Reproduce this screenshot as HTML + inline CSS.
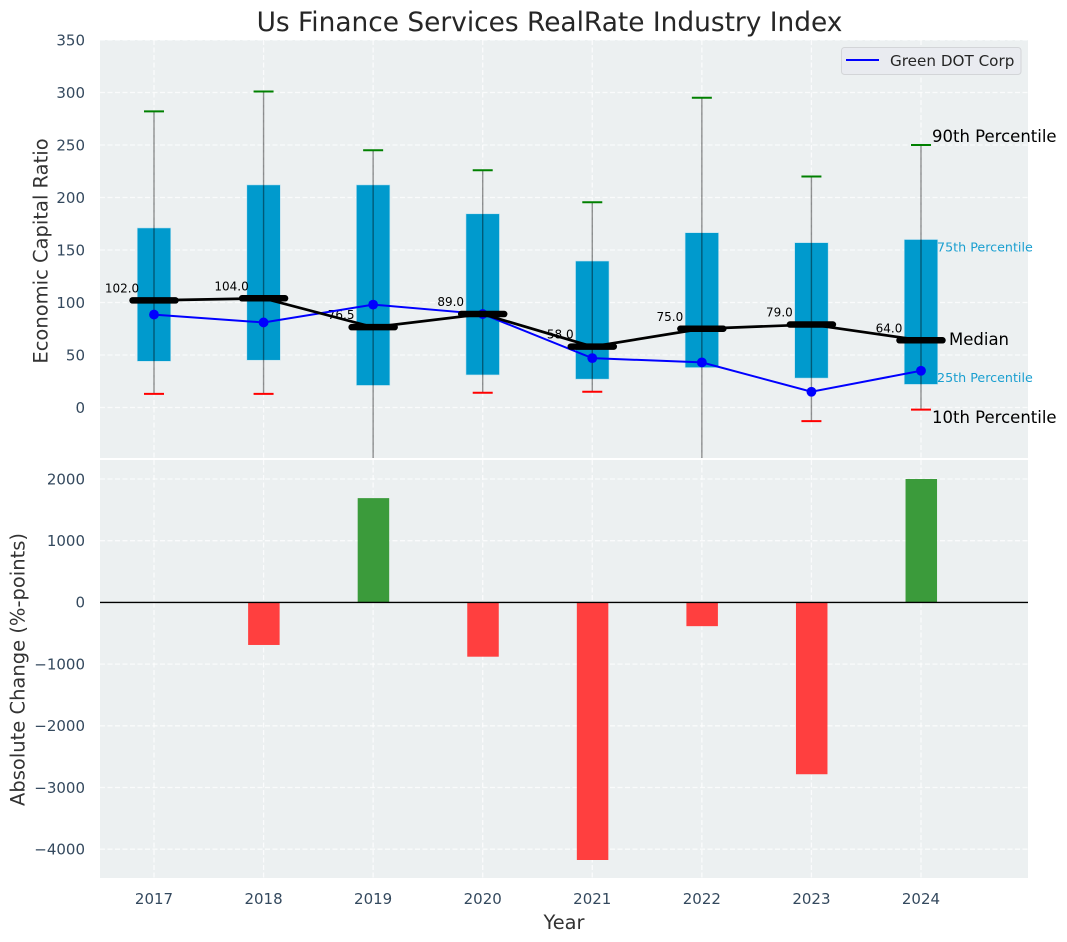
<!DOCTYPE html>
<html>
<head>
<meta charset="utf-8">
<title>Us Finance Services RealRate Industry Index</title>
<style>
html,body{margin:0;padding:0;background:#fff;width:1067px;height:942px;overflow:hidden}
svg{display:block}
text{font-family:"DejaVu Sans","Liberation Sans",sans-serif}
</style>
</head>
<body>
<svg id="chart" xmlns="http://www.w3.org/2000/svg" width="1067" height="942" viewBox="0 0 1067 942">
  <defs>
    <clipPath id="top-clip"><rect x="100" y="40" width="928" height="418"/></clipPath>
    <clipPath id="bottom-clip"><rect x="100" y="460" width="928" height="418"/></clipPath>
  </defs>
  <text x="549.5" y="31" text-anchor="middle" font-size="26.4" fill="#262626">Us Finance Services RealRate Industry Index</text>
  <rect x="100" y="40" width="928" height="418" fill="#ecf0f1"/>
  <rect x="100" y="460" width="928" height="418" fill="#ecf0f1"/>
  <g id="grid"></g>
  <g id="top-marks" clip-path="url(#top-clip)"></g>
  <g id="bottom-marks" clip-path="url(#bottom-clip)"></g>
  <g id="labels"></g>
  <text transform="translate(47.5,251) rotate(-90)" text-anchor="middle" font-size="19.5" fill="#333333">Economic Capital Ratio</text>
  <text transform="translate(24.5,669.5) rotate(-90)" text-anchor="middle" font-size="19.5" fill="#333333">Absolute Change (%-points)</text>
  <text x="564" y="929" text-anchor="middle" font-size="19.4" fill="#333333">Year</text>
  <g>
    <rect x="841.5" y="47.5" width="179.5" height="27" rx="3" fill="#e9ebf0" stroke="#d3d5d8" stroke-width="1"/>
    <line x1="846" x2="879" y1="60" y2="60" stroke="#0000ff" stroke-width="2"/>
    <text x="890" y="66" font-size="15.2" fill="#262626">Green DOT Corp</text>
  </g>
  <text x="932" y="142" font-size="16.5" fill="#000">90th Percentile</text>
  <text x="937" y="251.500" font-size="12.7" fill="#1a9fd0">75th Percentile</text>
  <text x="949" y="345" font-size="16.5" fill="#000">Median</text>
  <text x="937" y="382" font-size="12.7" fill="#1a9fd0">25th Percentile</text>
  <text x="932" y="423" font-size="16.5" fill="#000">10th Percentile</text>
</svg>
<script>
const years = [2017, 2018, 2019, 2020, 2021, 2022, 2023, 2024];
const p90 = [282, 301, 245, 226, 195.500, 295, 220, 250];
const p75 = [171, 212, 212, 184.500, 139.500, 166.500, 157, 160];
const median = [102, 104, 76.5, 89, 58, 75, 79, 64];
const p25 = [44, 45, 21, 31, 27, 38, 28, 22];
const p10 = [13, 13, -60, 14, 15, -60, -13, -2];
const company = [88.5, 81, 98, 89, 47, 43, 15, 35];
const change = [null, -690, 1690, -880, -4175, -385, -2785, 2000];
const topTicks = [0, 50, 100, 150, 200, 250, 300, 350];
const bottomTicks = [-4000, -3000, -2000, -1000, 0, 1000, 2000];

const NS = 'http://www.w3.org/2000/svg';
const xScale = y => 154 + (y - 2017) * 109.57;
const yTop = v => 407.5 - v * 1.05;
const yBottom = v => 602.4 - v * 0.0617;
const gridG = document.getElementById('grid');
const topG = document.getElementById('top-marks');
const bottomG = document.getElementById('bottom-marks');
const labelG = document.getElementById('labels');

function make(parent, tag, attrs, txt) {
  const el = document.createElementNS(NS, tag);
  for (const k in attrs) el.setAttribute(k, attrs[k]);
  if (txt !== undefined) el.textContent = txt;
  parent.appendChild(el);
  return el;
}
const gridStyle = { stroke: '#ffffff', 'stroke-width': 1.3, 'stroke-dasharray': '5 2.5', 'stroke-opacity': 0.75 };
const fmt = v => String(v).replace('-', '\u2212');

topTicks.forEach(t => {
  const g = make(gridG, 'line', Object.assign({ x1: 100, x2: 1028, y1: yTop(t), y2: yTop(t) }, gridStyle));
  
  
  const l = make(labelG, 'text', { x: 85, y: yTop(t) + 5.3, 'text-anchor': 'end', 'font-size': 15, fill: '#34495e' }, fmt(t));
  
  
});
bottomTicks.forEach(t => {
  const g = make(gridG, 'line', Object.assign({ x1: 100, x2: 1028, y1: yBottom(t), y2: yBottom(t) }, gridStyle));
  
  
  const l = make(labelG, 'text', { x: 85, y: yBottom(t) + 5.3, 'text-anchor': 'end', 'font-size': 15, fill: '#34495e' }, fmt(t));
  
  
});
years.forEach(y => {
  const a = make(gridG, 'line', Object.assign({ x1: xScale(y), x2: xScale(y), y1: 40, y2: 458 }, gridStyle));
  
  
  const b = make(gridG, 'line', Object.assign({ x1: xScale(y), x2: xScale(y), y1: 460, y2: 878 }, gridStyle));
  
  
  const l = make(labelG, 'text', { x: xScale(y), y: 904, 'text-anchor': 'middle', 'font-size': 15, fill: '#34495e' }, String(y));
  
  
});

const boxW = 33.5;
years.forEach((y, i) => {
  const x = xScale(y);
  const box = make(topG, 'rect', { x: x - boxW / 2, y: yTop(p75[i]), width: boxW, height: yTop(p25[i]) - yTop(p75[i]), fill: '#009acd', stroke: '#bfe3f0', 'stroke-width': 0.6 });
  
  
  const w = make(topG, 'line', { x1: x, x2: x, y1: yTop(p90[i]), y2: yTop(p10[i]), stroke: '#000', 'stroke-opacity': 0.42, 'stroke-width': 1.4 });
  
  
  const hi = make(topG, 'line', { x1: x - 10, x2: x + 10, y1: yTop(p90[i]), y2: yTop(p90[i]), stroke: '#008000', 'stroke-width': 2 });
  
  
  const lo = make(topG, 'line', { x1: x - 10, x2: x + 10, y1: yTop(p10[i]), y2: yTop(p10[i]), stroke: '#ff0000', 'stroke-width': 2 });
  
  
  const t = make(topG, 'text', { x: x - 32, y: yTop(median[i]) - 8, 'text-anchor': 'middle', 'font-size': 12, fill: '#000' }, median[i].toFixed(1));
  
  
});

const pts = arr => arr.map((v, i) => xScale(years[i]) + ',' + yTop(v)).join(' ');
const companyLine = make(topG, 'polyline', { points: pts(company), fill: 'none', stroke: '#0000ff', 'stroke-width': 2 });


years.forEach((y, i) => {
  const c = make(topG, 'circle', { cx: xScale(y), cy: yTop(company[i]), r: 4.9, fill: '#0000ff' });
  
  
});
const medianLine = make(topG, 'polyline', { points: pts(median), fill: 'none', stroke: '#000', 'stroke-width': 2.7 });


years.forEach((y, i) => {
  const x = xScale(y);
  const m = make(topG, 'line', { x1: x - 21.5, x2: x + 21.5, y1: yTop(median[i]), y2: yTop(median[i]), stroke: '#000', 'stroke-width': 6.5, 'stroke-linecap': 'round' });
  
  
});

const barW = 31.5;
years.forEach((y, i) => {
  const v = change[i];
  if (v === null) return;
  const top = Math.min(yBottom(v), yBottom(0));
  const h = Math.abs(yBottom(v) - yBottom(0));
  const bar = make(bottomG, 'rect', { x: xScale(y) - barW / 2 + 0.3, y: top, width: barW, height: h, fill: v >= 0 ? '#3b9b3b' : '#ff3f3f' });
  
  
});
const zero = make(bottomG, 'line', { x1: 100, x2: 1028, y1: yBottom(0), y2: yBottom(0), stroke: '#000', 'stroke-width': 1.4 });


</script>
</body>
</html>
